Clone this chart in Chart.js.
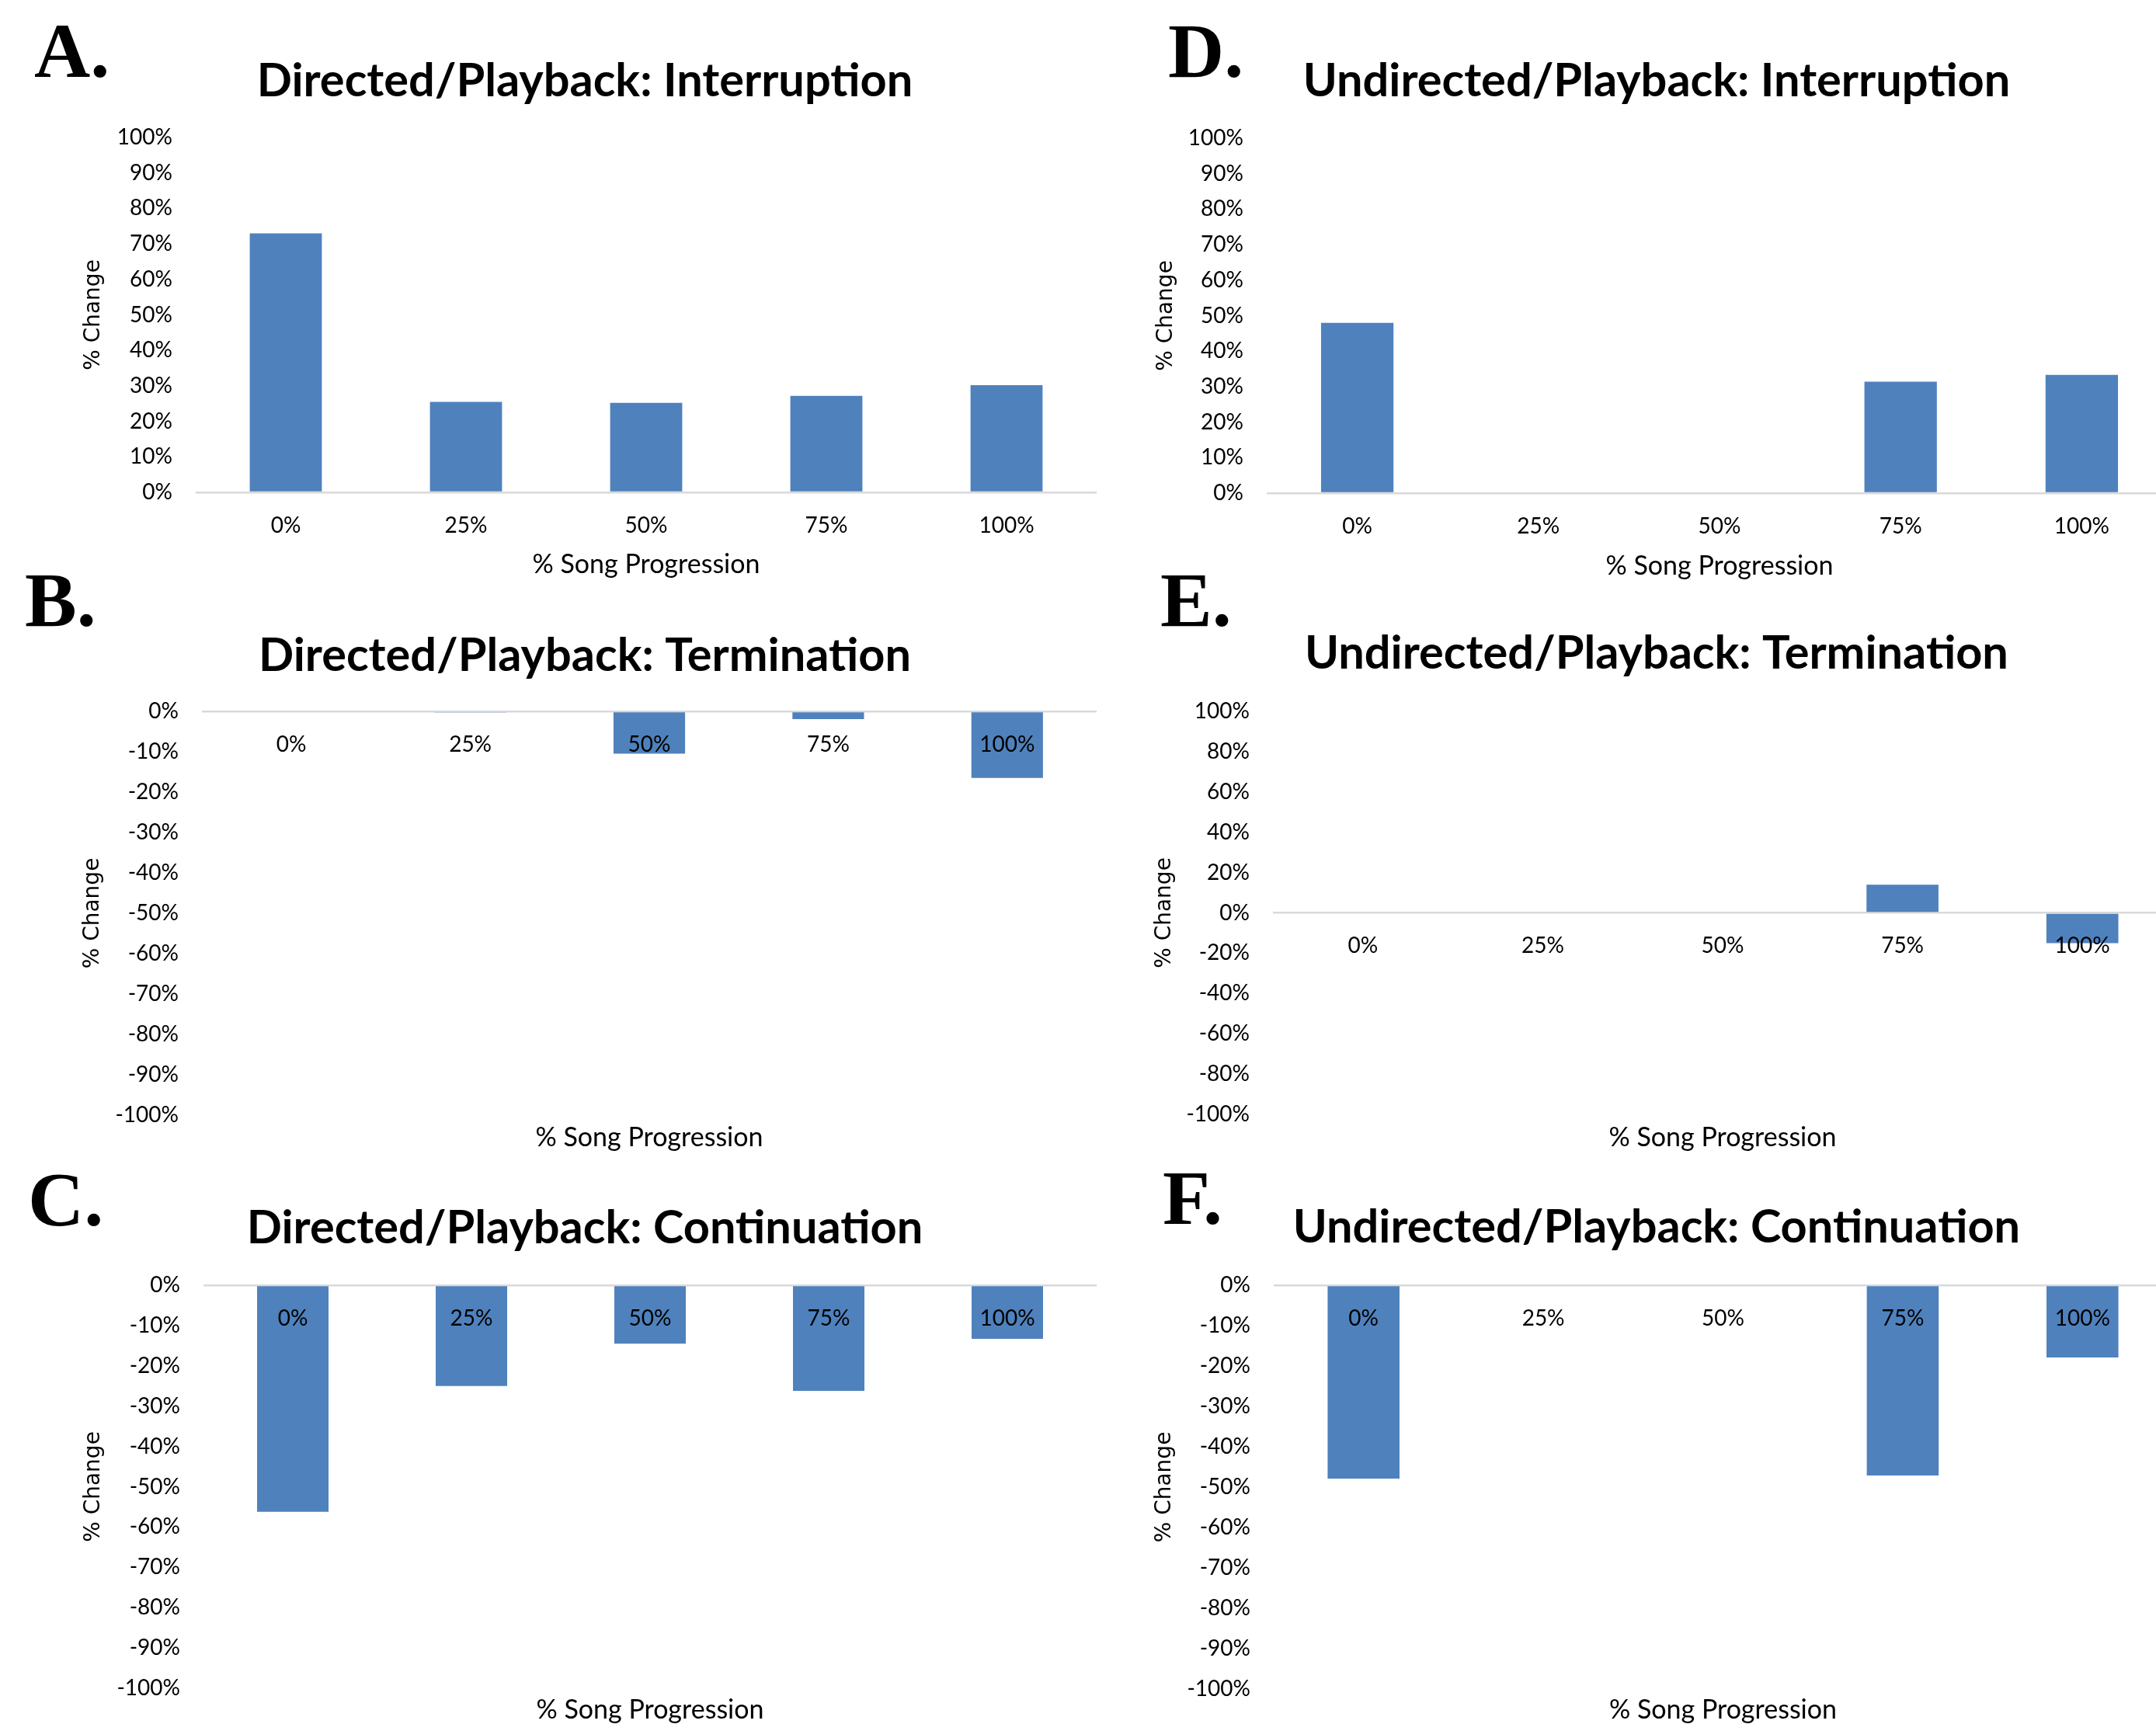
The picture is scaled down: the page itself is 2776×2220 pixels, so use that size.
<!DOCTYPE html>
<html>
<head>
<meta charset="utf-8">
<title>Playback: % change by song progression</title>
<script src="https://cdn.jsdelivr.net/npm/chart.js@4.4.0/dist/chart.umd.min.js"></script>
<style>
  html, body { margin: 0; padding: 0; background: #fff; }
  body { position: relative; width: 2776px; height: 2220px; overflow: hidden; }
  canvas { position: absolute; }
  .tag { position: absolute; font: bold 100px 'Liberation Serif', 'Times New Roman', serif; line-height: 100px; color: #000; }
</style>
</head>
<body>
<div class="tag" style="left:44px;top:16px">A.</div>
<div class="tag" style="left:32px;top:723px">B.</div>
<div class="tag" style="left:36px;top:1495px">C.</div>
<div class="tag" style="left:1504px;top:16px">D.</div>
<div class="tag" style="left:1494px;top:723px">E.</div>
<div class="tag" style="left:1497px;top:1493px">F.</div>

<canvas id="panel-a"></canvas>
<canvas id="panel-b"></canvas>
<canvas id="panel-c"></canvas>
<canvas id="panel-d"></canvas>
<canvas id="panel-e"></canvas>
<canvas id="panel-f"></canvas>

<script>
// categories (x axis)
const progression = ['0%', '25%', '50%', '75%', '100%'];

// % change per song position
const directedInterruption = [73, 25.5, 25.2, 27.2, 30.2];
const directedTermination = [0, -0.3, -10.5, -1.9, -16.5];
const directedContinuation = [-56.2, -25, -14.5, -26.2, -13.3];
const undirectedInterruption = [48, 0, 0, 31.4, 33.3];
const undirectedTermination = [0, 0, 0, 14, -15];
const undirectedContinuation = [-47.9, 0, 0, -47.1, -17.9];

// y tick values
const ticksUp = [0, 10, 20, 30, 40, 50, 60, 70, 80, 90, 100];
const ticksDown = [-100, -90, -80, -70, -60, -50, -40, -30, -20, -10, 0];
const ticksBoth = [-100, -80, -60, -40, -20, 0, 20, 40, 60, 80, 100];

(() => {
  const BLUE = '#4f81bd';
  const ZERO_LINE = '#d9d9d9';
  const TITLE_SIZE = 59.5;
  const TICK_SIZE = 28;
  const XTITLE_SIZE = 34;
  const YTITLE_SIZE = 28;

  // canvas frame + where the plot area / texts should land (page px)
  const frames = {
    a: { x: 0, y: 0, w: 1506, h: 760, yW: 252, rW: 94, top: 177, bottom: 634, titleMid: 105, xTitleMid: 727, yTitleMid: 121 },
    b: { x: 0, y: 760, w: 1506, h: 740, yW: 260, rW: 94, top: 916, bottom: 1436, titleMid: 845, xTitleMid: 1465, yTitleMid: 120 },
    c: { x: 0, y: 1500, w: 1506, h: 740, yW: 262, rW: 94, top: 1655, bottom: 2174, titleMid: 1582, xTitleMid: 2202, yTitleMid: 121 },
    d: { x: 1420, y: 0, w: 1426, h: 760, yW: 211, rW: 49, top: 178, bottom: 635, titleMid: 105, xTitleMid: 729, yTitleMid: 82 },
    e: { x: 1420, y: 760, w: 1426, h: 740, yW: 219, rW: 49, top: 916, bottom: 1435, titleMid: 842, xTitleMid: 1465, yTitleMid: 80 },
    f: { x: 1420, y: 1500, w: 1426, h: 740, yW: 220, rW: 49, top: 1655, bottom: 2175, titleMid: 1581, xTitleMid: 2202, yTitleMid: 80 }
  };

  const panels = [
    { id: 'panel-a', f: frames.a, title: 'Directed/Playback: Interruption', values: directedInterruption, ticks: ticksUp },
    { id: 'panel-b', f: frames.b, title: 'Directed/Playback: Termination', values: directedTermination, ticks: ticksDown },
    { id: 'panel-c', f: frames.c, title: 'Directed/Playback: Continuation', values: directedContinuation, ticks: ticksDown },
    { id: 'panel-d', f: frames.d, title: 'Undirected/Playback: Interruption', values: undirectedInterruption, ticks: ticksUp },
    { id: 'panel-e', f: frames.e, title: 'Undirected/Playback: Termination', values: undirectedTermination, ticks: ticksBoth },
    { id: 'panel-f', f: frames.f, title: 'Undirected/Playback: Continuation', values: undirectedContinuation, ticks: ticksDown }
  ];

  function draw(p) {
    const f = p.f;
    const cv = document.getElementById(p.id);
    cv.width = f.w;
    cv.height = f.h;
    cv.style.left = f.x + 'px';
    cv.style.top = f.y + 'px';

    const tLh = TITLE_SIZE * 1.2;
    const tTop = f.titleMid - f.y - tLh / 2;
    const tBottom = f.top - f.y - tTop - tLh;
    const xLh = XTITLE_SIZE * 1.2;
    const x2H = f.y + f.h - f.bottom;
    const xPad = f.y + f.h - xLh / 2 - f.xTitleMid;
    const yPad = f.yTitleMid - YTITLE_SIZE * 1.2 / 2;

    new Chart(cv, {
      type: 'bar',
      data: {
        labels: progression,
        datasets: [{
          data: p.values,
          backgroundColor: BLUE,
          borderWidth: 0,
          barPercentage: 0.4,
          categoryPercentage: 1,
          xAxisID: 'x',
          yAxisID: 'y'
        }]
      },
      options: {
        responsive: false,
        animation: false,
        layout: { padding: 0 },
        plugins: {
          legend: { display: false },
          tooltip: { enabled: false },
          title: {
            display: true,
            text: p.title,
            color: '#000',
            font: { family: 'Lato', size: TITLE_SIZE, weight: 'bold' },
            padding: { top: tTop, bottom: tBottom }
          }
        },
        scales: {
          x: {
            type: 'category',
            position: { y: 0 },
            offset: true,
            grid: { display: false },
            border: { display: false },
            ticks: {
              z: 1,
              padding: 18,
              color: '#000',
              maxRotation: 0,
              autoSkip: false,
              font: { family: 'Lato', size: TICK_SIZE }
            }
          },
          x2: {
            type: 'category',
            position: 'bottom',
            grid: { display: false },
            border: { display: false },
            ticks: { display: false },
            title: {
              display: true,
              text: '% Song Progression',
              color: '#000',
              font: { family: 'Lato', size: XTITLE_SIZE },
              padding: { top: 0, bottom: xPad }
            },
            afterFit: s => { s.height = x2H; }
          },
          y: {
            position: 'left',
            min: p.ticks[0],
            max: p.ticks[p.ticks.length - 1],
            afterBuildTicks: s => { s.ticks = p.ticks.map(v => ({ value: v })); },
            afterFit: s => { s.width = f.yW; },
            grid: {
              drawTicks: false,
              lineWidth: 2.5,
              color: c => (c.tick && c.tick.value === 0 ? ZERO_LINE : 'rgba(0,0,0,0)')
            },
            border: { display: false },
            ticks: {
              padding: 30,
              color: '#000',
              font: { family: 'Lato', size: TICK_SIZE },
              callback: v => v + '%'
            },
            title: {
              display: true,
              text: '% Change',
              color: '#000',
              font: { family: 'DejaVu Sans', size: YTITLE_SIZE },
              padding: { top: yPad, bottom: 0 }
            }
          },
          yR: {
            type: 'linear',
            position: 'right',
            grid: { display: false },
            border: { display: false },
            ticks: { display: false },
            afterFit: s => { s.width = f.rW; }
          }
        }
      }
    });
  }

  panels.forEach(draw);
})();
</script>
</body>
</html>
